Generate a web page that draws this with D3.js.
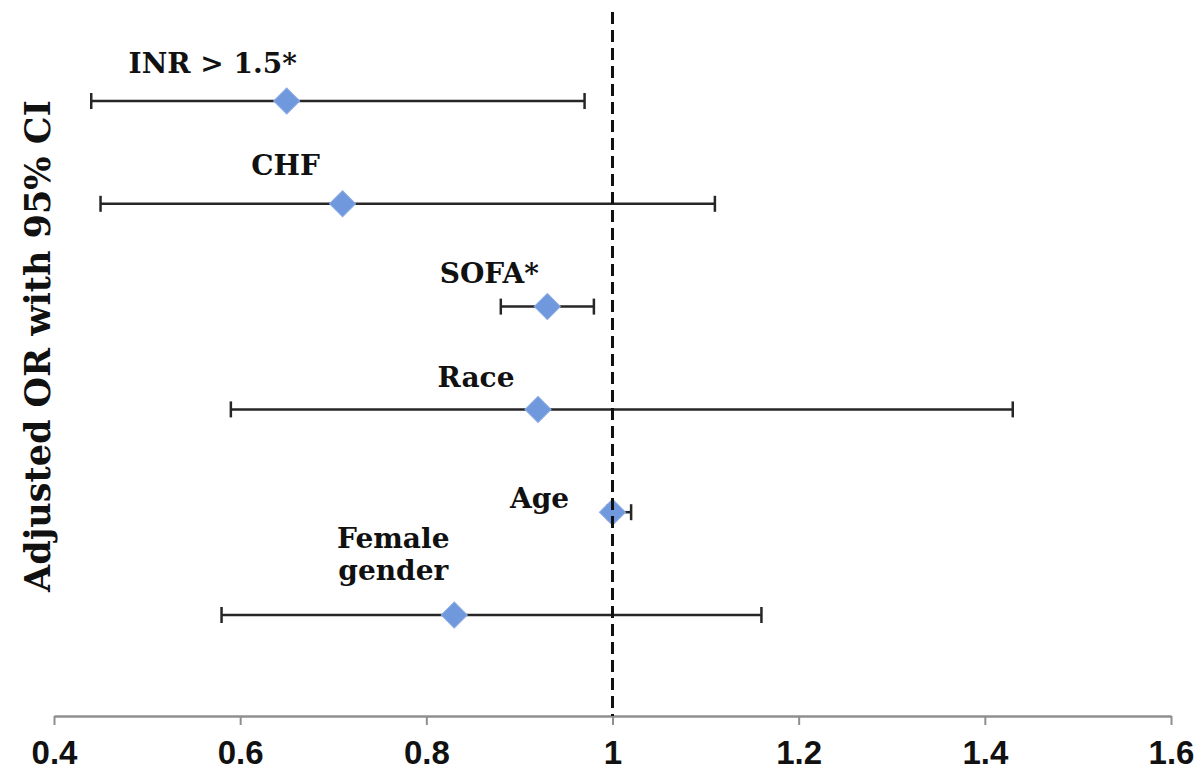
<!DOCTYPE html>
<html>
<head>
<meta charset="utf-8">
<script src="https://cdn.jsdelivr.net/npm/d3@7"></script>
<style>
  body { margin: 0; background: #fff; }
  svg { display: block; }
</style>
</head>
<body>
<div class="chart"></div>
<script>
// chart values
const factors = ['INR > 1.5*', 'CHF', 'SOFA*', 'Race', 'Age', 'Female gender'];
const oddsRatio = [0.65, 0.71, 0.93, 0.92, 1.00, 0.83];
const ciLower = [0.44, 0.45, 0.88, 0.59, 0.995, 0.58];
const ciUpper = [0.97, 1.11, 0.98, 1.43, 1.02, 1.16];
const xTicks = [0.4, 0.6, 0.8, 1, 1.2, 1.4, 1.6];

// where each label sits relative to its marker (px)
const labelDx = [-74, -57, -58, -62, -73, -61];
const labelDy = [-28, -29, -24, -22, -4, -67];

const width = 1196;
const height = 771;
const axisY = 716;

const rows = factors.map((f, i) => ({
  name: f,
  or: oddsRatio[i],
  lo: ciLower[i],
  hi: ciUpper[i],
  dx: labelDx[i],
  dy: labelDy[i]
}));

const svg = d3.select('.chart')
    .append('svg')
    .attr('width', width)
    .attr('height', height);

const x = d3.scaleLinear()
    .domain([0.4, 1.6])
    .range([54, 1171]);

const y = d3.scalePoint()
    .domain(factors)
    .range([101, 615]);

// x axis
const xAxis = svg.append('g')
    .attr('transform', `translate(0,${axisY})`)
    .call(d3.axisBottom(x)
      .tickValues(xTicks)
      .tickSize(9)
      .tickSizeOuter(0)
      .tickPadding(16)
      .tickFormat(d3.format('')));

xAxis.select('.domain')
    .attr('stroke', '#8f8f8f')
    .attr('stroke-width', 2.5);
xAxis.selectAll('.tick line')
    .attr('stroke', '#8f8f8f')
    .attr('stroke-width', 2);
xAxis.selectAll('.tick text')
    .attr('fill', '#111')
    .style('font-family', '"Liberation Sans", Arial, sans-serif')
    .style('font-weight', 'bold')
    .style('font-size', '33px');

// y axis title
svg.append('text')
    .text('Adjusted OR with 95% CI')
    .attr('transform', 'translate(50,346) rotate(-90)')
    .attr('text-anchor', 'middle')
    .attr('fill', '#111')
    .style('font-family', '"DejaVu Serif", serif')
    .style('font-weight', 'bold')
    .style('font-size', '35px');

// error bars
const bars = svg.selectAll('.bar')
    .data(rows)
    .enter()
    .append('g')
    .attr('class', 'bar')
    .attr('stroke', '#262626')
    .attr('stroke-width', 2.5);

bars.append('line')
    .attr('x1', d => x(d.lo))
    .attr('x2', d => x(d.hi))
    .attr('y1', d => y(d.name))
    .attr('y2', d => y(d.name));

bars.append('line')
    .attr('x1', d => x(d.lo))
    .attr('x2', d => x(d.lo))
    .attr('y1', d => y(d.name) - 8)
    .attr('y2', d => y(d.name) + 8);

bars.append('line')
    .attr('x1', d => x(d.hi))
    .attr('x2', d => x(d.hi))
    .attr('y1', d => y(d.name) - 8)
    .attr('y2', d => y(d.name) + 8);

// diamond markers
svg.selectAll('.marker')
    .data(rows)
    .enter()
    .append('path')
    .attr('class', 'marker')
    .attr('d', d3.symbol(d3.symbolSquare).size(340))
    .attr('transform', d => `translate(${x(d.or)},${y(d.name)}) rotate(45)`)
    .attr('fill', '#7098dc')
    .attr('stroke', '#8aaae6')
    .attr('stroke-width', 1);

// labels
const labels = svg.selectAll('.label')
    .data(rows)
    .enter()
    .append('text')
    .attr('class', 'label')
    .attr('text-anchor', 'middle')
    .attr('fill', '#111')
    .style('font-family', '"DejaVu Serif", serif')
    .style('font-weight', 'bold')
    .style('font-size', '28px')
    .attr('x', d => x(d.or) + d.dx)
    .attr('y', d => y(d.name) + d.dy);

labels.selectAll('tspan')
    .data(d => d.name === 'Female gender' ? ['Female', 'gender'] : [d.name])
    .enter()
    .append('tspan')
    .attr('x', function() { return this.parentNode.getAttribute('x'); })
    .attr('dy', (d, i) => i === 0 ? 0 : 32)
    .text(d => d);

// reference line at OR = 1
svg.append('line')
    .attr('x1', x(1))
    .attr('x2', x(1))
    .attr('y1', 12)
    .attr('y2', axisY)
    .attr('stroke', '#111')
    .attr('stroke-width', 3)
    .attr('stroke-dasharray', '12 6');
</script>
</body>
</html>
